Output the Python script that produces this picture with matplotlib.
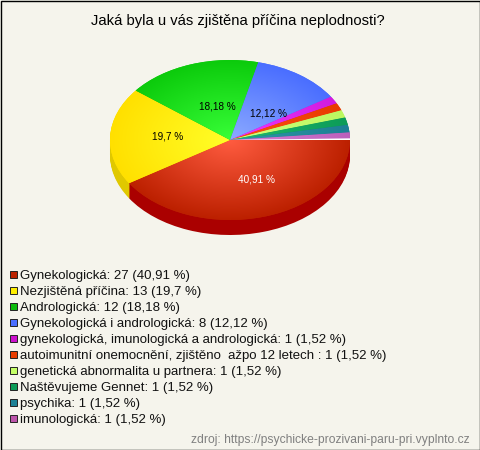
import numpy as np
import matplotlib
matplotlib.use("Agg")
import matplotlib.pyplot as plt
from matplotlib.colors import LinearSegmentedColormap
from matplotlib.patches import Wedge, Rectangle

plt.rcParams['font.family'] = ['Liberation Sans', 'DejaVu Sans']

title = "Jaká byla u vás zjištěna příčina neplodnosti?"
source = "zdroj: https://psychicke-prozivani-paru-pri.vyplnto.cz"
categories = ["Gynekologická", "Nezjištěná příčina", "Andrologická",
              "Gynekologická i andrologická",
              "gynekologická, imunologická a andrologická",
              "autoimunitní onemocnění, zjištěno  ažpo 12 letech ",
              "genetická abnormalita u partnera", "Naštěvujeme Gennet",
              "psychika", "imunologická"]
values = [27, 13, 12, 8, 1, 1, 1, 1, 1, 1]
percents = ["40,91", "19,7", "18,18", "12,12", "1,52", "1,52", "1,52", "1,52", "1,52", "1,52"]

edge_colors = ["#BC2000", "#FFE000", "#0CCB0C", "#4A6EFF", "#D01CE0", "#E83C00",
               "#BCF860", "#0C9C58", "#1C8094", "#BC60BC"]
center_colors = ["#FF5C40", "#FFFF28", "#38FF38", "#8CAAFF", "#F038FF", "#FF5010",
                 "#D0FF80", "#20B870", "#3098A8", "#D880D8"]
legend_colors = ["#BB2200", "#FFEE00", "#0CBB0C", "#4A6EFF", "#CC11CC", "#E83C00",
                 "#C4FF66", "#0C9C58", "#1C8094", "#BC55AA"]
side_colors = ["#AA0000", "#E0C800", "#0AA00A", "#3A58CC", "#A010B0", "#B83000",
               "#96C84C", "#087C44", "#146474", "#964C96"]
label_colors = ["white", "black", "black", "black"]
label_offsets = [(10, 1), (-2, -2), (7, 4), (4, 6)]

BG = "#F5F4EC"
W, H = 480, 450
CX, CY, RX, RY, DEPTH = 230, 140, 120, 80, 15

fig = plt.figure(figsize=(W / 100, H / 100), dpi=100, facecolor=BG)

# pie axes: one data unit is RX px across and RY px down
ax = fig.add_axes([0, 0, 1, 1])
ax.patch.set_alpha(0)

for d in range(DEPTH, 0, -1):
    ax.pie(values, colors=side_colors, startangle=0, counterclock=False,
           center=(0, -d / RY), radius=1)
wedges, _ = ax.pie(values, colors=edge_colors, startangle=0, counterclock=False,
                   center=(0, 0), radius=1)
ax.set_aspect('auto')
ax.set_axis_off()

n = 200
xx, yy = np.meshgrid(np.linspace(-1, 1, n), np.linspace(-1, 1, n))
rr = np.clip(np.hypot(xx, yy), 0, 1)
for wedge, c0, c1 in zip(wedges, center_colors, edge_colors):
    cmap = LinearSegmentedColormap.from_list("g", [c0, c1])
    im = ax.imshow(rr, extent=(-1, 1, -1, 1), origin='lower', cmap=cmap, vmin=0, vmax=1,
                   aspect='auto', zorder=2)
    im.set_clip_path(wedge)
ax.set_xlim(-CX / RX, (W - CX) / RX)
ax.set_ylim((CY - H) / RY, CY / RY)

# thin pale gap before the first slice
ax.add_patch(Wedge((0, 0), 1, 0.0, 1.2, facecolor="#FFFFFF", edgecolor="none", zorder=3))

# percentage labels inside the four big slices
total = sum(values)
start = 0.0
for i, v in enumerate(values):
    mid = start + v / total * 360 / 2
    start += v / total * 360
    if i < len(label_colors):
        a = np.deg2rad(mid)
        ox, oy = label_offsets[i]
        ax.annotate(f"{percents[i]} %", xy=(0.5 * np.cos(a), -0.5 * np.sin(a)),
                    xytext=(ox * 0.72, -oy * 0.72), textcoords='offset points',
                    ha='center', va='center', fontsize=7.2, color=label_colors[i], zorder=5)

# overlay in pixel coordinates
ov = fig.add_axes([0, 0, 1, 1])
ov.set_xlim(0, W)
ov.set_ylim(H, 0)
ov.set_axis_off()
ov.patch.set_alpha(0)

ov.add_patch(Rectangle((0.5, 0.5), W - 1, H - 1, fill=False, edgecolor="#000000", lw=1.0))
ov.text(238, 21, title, ha='center', va='center', fontsize=10.65, color="black")
for i, (c, v, p, col) in enumerate(zip(categories, values, percents, legend_colors)):
    y = 274 + 16 * i
    ov.add_patch(Rectangle((9.5, y - 3.5), 7, 7, facecolor=col, edgecolor="#222222", lw=0.7))
    ov.text(20, y + 4.7, f"{c}: {v} ({p} %)", ha='left', va='baseline', fontsize=9.5, color="#111111")
ov.text(470, 442.5, source, ha='right', va='baseline', fontsize=8.7, color="#808080")

fig.savefig("out.png", dpi=100, facecolor=BG)
